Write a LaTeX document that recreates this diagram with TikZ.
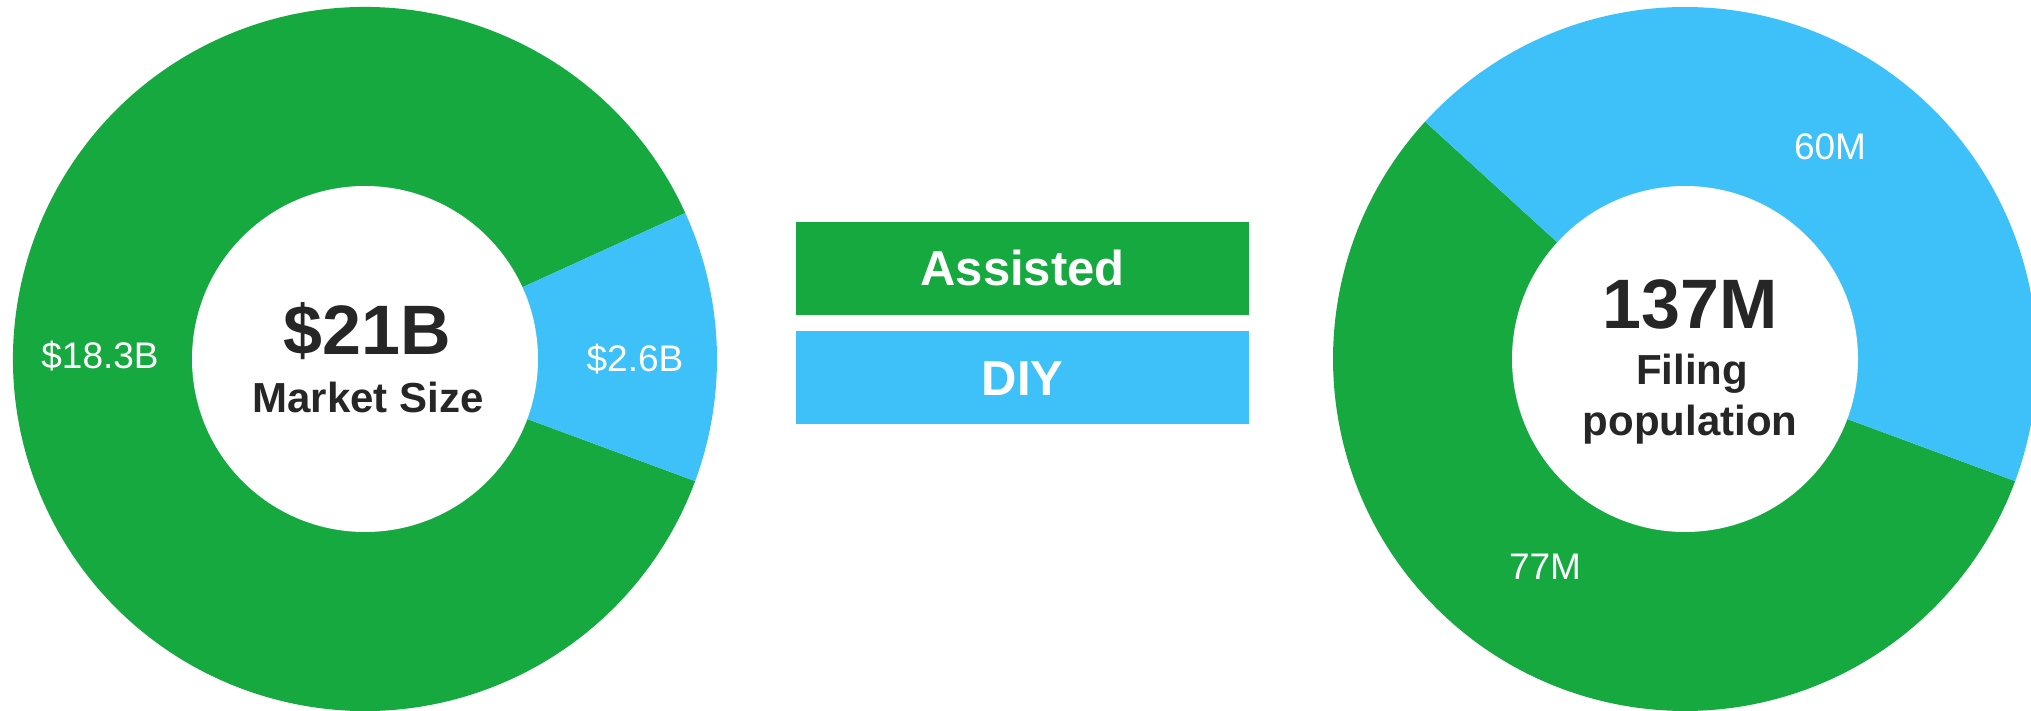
\documentclass[tikz,border=0pt]{standalone}
\usepackage{fontspec}
\setmainfont{Liberation Sans}
\usetikzlibrary{positioning}
\definecolor{assistGreen}{HTML}{16A940}
\definecolor{diyBlue}{HTML}{3DC1F8}
\definecolor{inkDark}{HTML}{262626}
\tikzset{
  hole/.style   = {circle, fill=white, minimum size=346pt, inner sep=0pt},
  bigval/.style = {font=\fontsize{70}{80}\selectfont\bfseries, text=inkDark, inner sep=0pt, anchor=base},
  subtxt/.style = {font=\fontsize{42}{51}\selectfont\bfseries, text=inkDark, inner sep=0pt, anchor=base},
  seglbl/.style = {font=\fontsize{37}{44}\selectfont, text=white, inner sep=0pt, anchor=base},
  legbox/.style = {minimum width=453pt, minimum height=93pt, inner sep=0pt, text=white,
                   font=\fontsize{49}{58}\selectfont\bfseries, text height=35pt, text depth=0pt}
}

\begin{document}
\begin{tikzpicture}[x=1pt, y=1pt]
  \useasboundingbox (0,0) rectangle (2031,710);

  % --- market size donut (left)
  \fill[assistGreen] (365,351) -- ++(24.5:352) arc[start angle=24.5, end angle=339.7, radius=352] -- cycle;
  \fill[diyBlue] (365,351) -- ++(-20.3:352) arc[start angle=-20.3, end angle=24.5, radius=352] -- cycle;
  \node[hole] (lhole) at (365,351) {};
  \node[bigval] (lval) at (367,355) {\$21B};
  \node[subtxt] (lsub) at (368,297) {Market Size};
  \node[seglbl] (lgreen) at (100,341) {\$18.3B};
  \node[seglbl] (lblue) at (635,338) {\$2.6B};

  % --- legend (middle)
  \node[legbox, fill=assistGreen] (assisted) at (1022.5,441.5) {Assisted};
  \node[legbox, fill=diyBlue, below=16pt of assisted] (diy) {DIY};

  % --- filing population donut (right)
  \fill[assistGreen] (1685,351) -- ++(137.6:352) arc[start angle=137.6, end angle=339.7, radius=352] -- cycle;
  \fill[diyBlue] (1685,351) -- ++(-20.3:352) arc[start angle=-20.3, end angle=137.6, radius=352] -- cycle;
  \node[hole] (rhole) at (1685,351) {};
  \node[bigval] (rval) at (1690,381) {137M};
  \node[subtxt] (rsub1) at (1692,325) {Filing};
  \node[subtxt] (rsub2) at (1690,274) {population};
  \node[seglbl] (rblue) at (1830,550) {60M};
  \node[seglbl] (rgreen) at (1545,131) {77M};
\end{tikzpicture}
\end{document}
